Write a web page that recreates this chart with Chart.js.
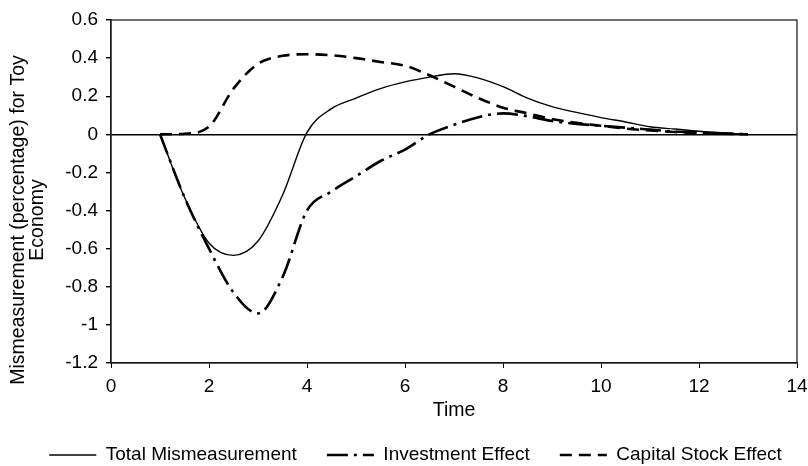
<!DOCTYPE html>
<html>
<head>
<meta charset="utf-8">
<script src="https://cdn.jsdelivr.net/npm/chart.js@4/dist/chart.umd.min.js"></script>
<style>
  html, body { margin: 0; padding: 0; background: #fff; }
  #wrap { width: 808px; height: 466px; }
</style>
</head>
<body>
<div id="wrap"><canvas id="chartToy" width="808" height="466"></canvas></div>
<script>
const time = [1, 1.5, 2, 2.5, 3, 3.5, 4, 4.5, 5, 5.5, 6, 6.5, 7, 7.5, 8, 8.5, 9, 9.5, 10, 10.5, 11, 11.5, 12, 12.5, 13];

const totalMis = [0, -0.33, -0.57, -0.635, -0.56, -0.32, 0.01, 0.135, 0.19, 0.24, 0.275, 0.30, 0.318, 0.295, 0.25, 0.19, 0.145, 0.115, 0.088, 0.065, 0.04, 0.028, 0.016, 0.007, 0];
const investment = [0, -0.33, -0.60, -0.83, -0.94, -0.75, -0.40, -0.30, -0.22, -0.14, -0.08, 0.0, 0.05, 0.09, 0.11, 0.095, 0.07, 0.055, 0.045, 0.035, 0.025, 0.015, 0.01, 0.005, 0];
const capital = [0, 0.003, 0.04, 0.24, 0.37, 0.412, 0.42, 0.415, 0.40, 0.38, 0.36, 0.31, 0.25, 0.19, 0.14, 0.11, 0.08, 0.06, 0.045, 0.03, 0.02, 0.012, 0.007, 0.003, 0];

const xTicks = [0, 2, 4, 6, 8, 10, 12, 14];
const yTicks = [0.6, 0.4, 0.2, 0, -0.2, -0.4, -0.6, -0.8, -1, -1.2];
const yTitle = ['Mismeasurement (percentage) for Toy', 'Economy'];

const pts = (vals) => vals.map((v, i) => ({ x: time[i], y: v }));

const fontFam = '"Liberation Sans", Arial, sans-serif';
Chart.defaults.font.family = fontFam;
Chart.defaults.font.size = 19;
Chart.defaults.color = '#000';

// box round the plot area
const boxPlugin = {
    id: 'box',
    afterDraw(chart) {
        const a = chart.chartArea;
        const ctx = chart.ctx;
        ctx.save();
        ctx.strokeStyle = '#222';
        ctx.lineWidth = 1.3;
        ctx.strokeRect(a.left, a.top, a.right - a.left, a.bottom - a.top);
        ctx.restore();
    }
};

// the y title sits lower than the plot middle in the original, so draw it here
const yTitlePlugin = {
    id: 'yTitle',
    afterDraw(chart) {
        const ctx = chart.ctx;
        ctx.save();
        ctx.fillStyle = '#000';
        ctx.font = '19.5px ' + fontFam;
        ctx.textAlign = 'center';
        ctx.textBaseline = 'middle';
        ctx.translate(19, 220);
        ctx.rotate(-Math.PI / 2);
        yTitle.forEach((line, i) => ctx.fillText(line, 0, i * 19));
        ctx.restore();
    }
};

// legend row is a bit right of centre in the original
const legendShift = {
    id: 'legendShift',
    afterLayout(chart) {
        chart.legend.left += 17;
        chart.legend.right += 17;
    }
};

const data = {
    datasets: [{
        label: 'Total Mismeasurement',
        data: pts(totalMis),
        borderColor: '#000',
        backgroundColor: '#000',
        borderWidth: 1.4,
        pointRadius: 0,
        cubicInterpolationMode: 'monotone'
    }, {
        label: 'Investment Effect',
        data: pts(investment),
        borderColor: '#000',
        backgroundColor: '#000',
        borderWidth: 2.6,
        borderDash: [21, 6, 3, 6],
        pointRadius: 0,
        cubicInterpolationMode: 'monotone'
    }, {
        label: 'Capital Stock Effect',
        data: pts(capital),
        borderColor: '#000',
        backgroundColor: '#000',
        borderWidth: 2.6,
        borderDash: [12, 7],
        pointRadius: 0,
        cubicInterpolationMode: 'monotone'
    }]
};

const config = {
    type: 'line',
    data: data,
    plugins: [boxPlugin, yTitlePlugin, legendShift],
    options: {
        responsive: false,
        animation: false,
        devicePixelRatio: 1,
        layout: { padding: { top: 20, right: 11, left: 0, bottom: -8.5 } },
        plugins: {
            tooltip: { enabled: false },
            legend: {
                position: 'bottom',
                labels: {
                    usePointStyle: true,
                    pointStyle: 'line',
                    pointStyleWidth: 47,
                    boxWidth: 47,
                    padding: 30,
                    color: '#000',
                    font: { size: 19 },
                    generateLabels: (chart) => chart.data.datasets.map((ds, i) => ({
                        text: ds.label,
                        fillStyle: '#000',
                        strokeStyle: '#000',
                        fontColor: '#000',
                        lineWidth: ds.borderWidth,
                        lineDash: ds.borderDash || [],
                        lineCap: 'butt',
                        pointStyle: 'line',
                        hidden: false,
                        datasetIndex: i
                    }))
                }
            }
        },
        scales: {
            x: {
                type: 'linear',
                min: 0,
                max: 14,
                afterBuildTicks: (s) => { s.ticks = xTicks.map(v => ({ value: v })); },
                afterFit: (s) => { s.height = 52.5; s.paddingLeft = 0; s.paddingRight = 0; },
                ticks: { color: '#000', padding: 7, maxRotation: 0 },
                grid: { drawOnChartArea: false, tickLength: 5, tickColor: '#000' },
                border: { color: '#000', width: 1.3 },
                title: {
                    display: true,
                    text: 'Time',
                    color: '#000',
                    font: { size: 19.5 },
                    padding: { top: 0, bottom: -6.9 }
                }
            },
            y: {
                min: -1.2,
                max: 0.6,
                afterBuildTicks: (s) => { s.ticks = yTicks.map(v => ({ value: v })); },
                afterFit: (s) => { s.width = 111; s.paddingTop = 0; s.paddingBottom = 0; },
                ticks: {
                    color: '#000',
                    padding: 8,
                    callback: (v) => String(Number(v.toFixed(1)))
                },
                grid: {
                    drawOnChartArea: true,
                    tickLength: 5,
                    tickColor: '#000',
                    color: (c) => (c.tick && Math.abs(c.tick.value) < 1e-9) ? '#000' : 'rgba(0,0,0,0)',
                    lineWidth: 1.4
                },
                border: { color: '#000', width: 1.3 },
                title: { display: false }
            }
        }
    }
};

new Chart(
    document.getElementById('chartToy'),
    config
);
</script>
</body>
</html>
